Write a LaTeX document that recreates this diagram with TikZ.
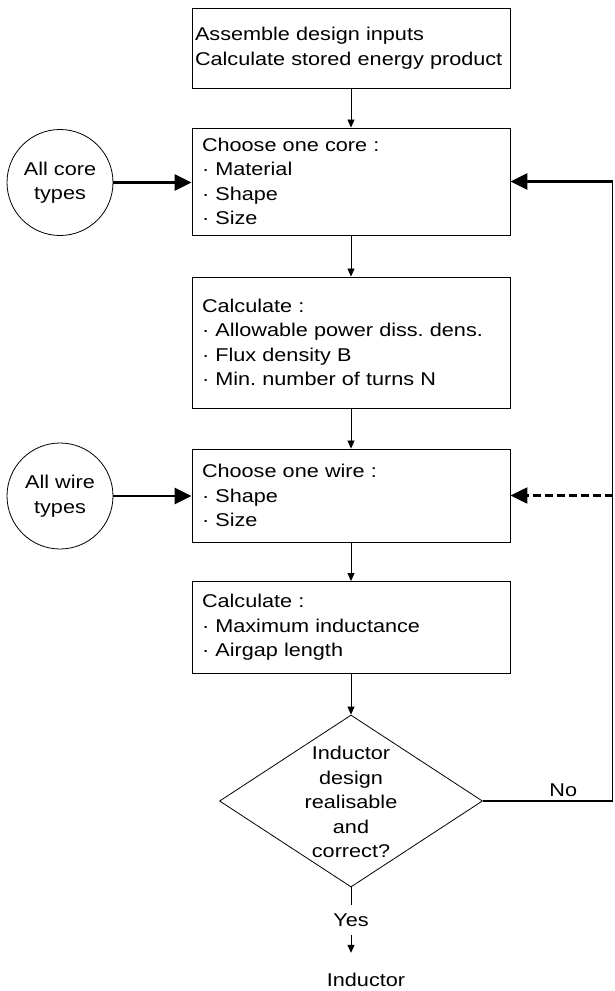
\documentclass[tikz,border=0pt]{standalone}
\usepackage{fontspec}
\setmainfont{Liberation Sans}[FakeStretch=1.17]
\usetikzlibrary{arrows.meta,shapes.geometric}
\frenchspacing
\tikzset{
  box/.style={draw, line width=0.9pt, rectangle, align=left, inner xsep=10pt, text width=298pt},
  circ/.style={draw, line width=0.8pt, circle, minimum size=106pt, inner sep=0pt, align=center},
  thinarrow/.style={line width=0.8pt, -{Triangle[length=8pt,width=7pt]}},
  bigarrow/.style={line width=2.8pt, -{Triangle[length=17pt,width=16pt]}},
  fbline/.style={line width=1.8pt},
}
\begin{document}
\begin{tikzpicture}[x=1pt,y=-1pt, font=\fontsize{18.5}{24.5}\selectfont]
\useasboundingbox (0,0) rectangle (614,991);
\fill[white] (0,0) rectangle (614,991);

\node[box, inner xsep=3pt, text width=312pt, minimum height=80pt] (top) at (351,48)
  {Assemble design inputs\\Calculate stored energy product};
\node[box, minimum height=107pt] (core) at (351,181.5)
  {Choose one core :\\· Material\\· Shape\\· Size};
\node[box, minimum height=131pt] (calc1) at (351,342.5)
  {Calculate :\\· Allowable power diss. dens.\\· Flux density B\\· Min. number of turns N};
\node[box, minimum height=93pt] (wire) at (351,495.5)
  {Choose one wire :\\· Shape\\· Size};
\node[box, minimum height=92pt] (calc2) at (351,627.5)
  {Calculate :\\· Maximum inductance\\· Airgap length};

\node[draw, line width=0.8pt, diamond, minimum width=263pt, minimum height=172pt, inner sep=0pt] (dia) at (351,801) {};
\node[align=center, inner sep=0pt] (qt) at (351,802) {Inductor\\design\\realisable\\and\\correct?};

\node[circ] (cc) at (60,182.5) {All core\\types};
\node[circ] (wc) at (60,496) {All wire\\types};

\node[minimum height=30pt, inner sep=0pt] (yes) at (351,920) {Yes};
\node[minimum height=54pt, inner sep=0pt] (ind) at (366,980) {Inductor};

\coordinate (rb) at (612.5,801);
\coordinate (rt) at (612.5,181.5);
\coordinate (rw) at (612.5,495.5);

\draw[thinarrow] (top.south) -- (core.north);
\draw[thinarrow] (core.south) -- (calc1.north);
\draw[thinarrow] (calc1.south) -- (wire.north);
\draw[thinarrow] (wire.south) -- (calc2.north);
\draw[thinarrow] (calc2.south) -- (dia.north);

\draw[bigarrow] (cc.east) -- (cc.east -| core.west);
\draw[bigarrow] (wc.east) -- (wc.east -| wire.west);

\draw[fbline] (dia.east) -- node[above, pos=0.62] (no) {No} (rb);
\draw[line width=1.6pt] (rb) -- (rt);
\draw[bigarrow] (rt) -- (core.east);
\draw[bigarrow, line width=2.4pt, dash pattern=on 8pt off 4pt] (rw) -- (wire.east);

\draw[line width=0.8pt] (dia.south) -- (yes.north);
\draw[thinarrow] (yes.south) -- (yes.south |- ind.north);
\end{tikzpicture}
\end{document}
